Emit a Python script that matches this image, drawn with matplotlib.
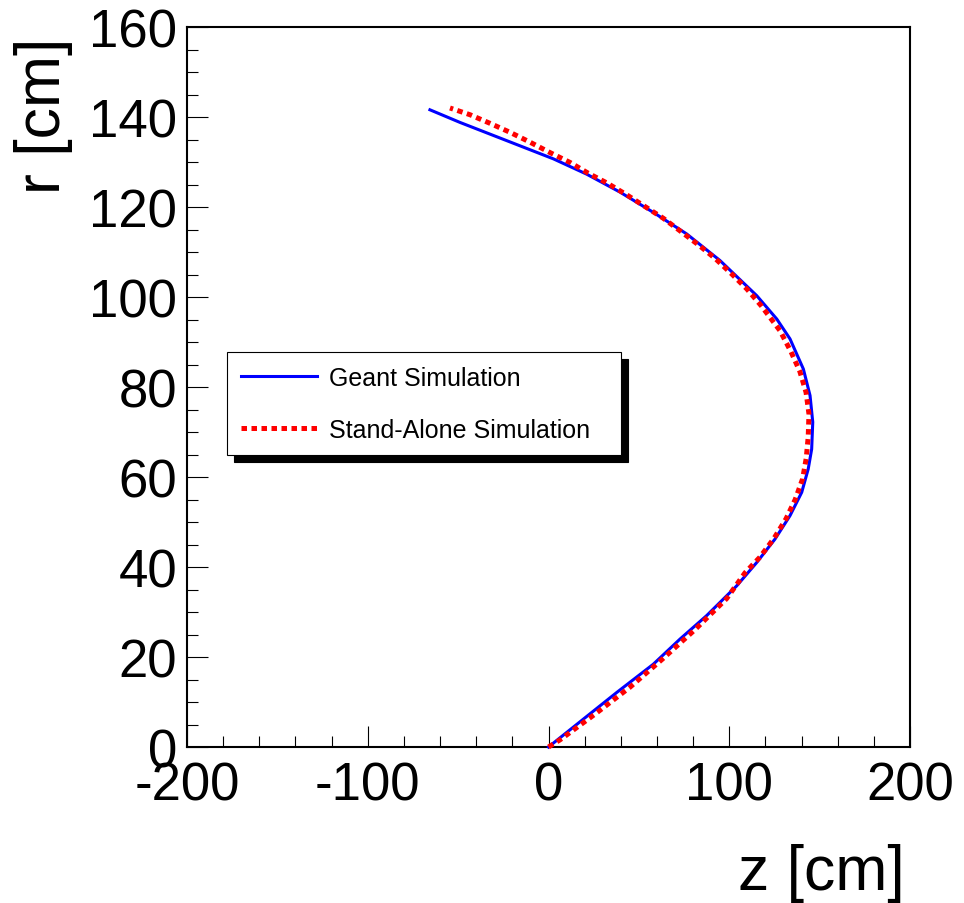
import matplotlib

matplotlib.use("Agg")
import matplotlib.pyplot as plt
from matplotlib import font_manager
from matplotlib.ticker import MultipleLocator

# Track: z along the beam, r transverse radius (cm).
geant_z = [0.0, 19.3, 37.7, 58.0, 72.8, 87.5, 104.1, 115.2, 125.3, 133.6,
           140.1, 143.7, 145.6, 146.2, 144.7, 141.0, 133.6, 126.3, 115.2,
           94.9, 76.5, 58.0, 39.6, 21.1, 2.7, -15.8, -32.4, -49.0, -65.6]
geant_r = [0.0, 6.2, 12.1, 18.4, 24.0, 29.2, 35.8, 41.0, 46.2, 51.4,
           56.6, 61.8, 66.2, 72.2, 78.1, 84.0, 90.7, 95.1, 100.3,
           108.1, 114.0, 118.8, 123.3, 127.3, 130.7, 133.6, 136.2, 138.8, 141.6]

standalone_z = [0.0, 6.4, 25.7, 45.1, 63.2, 81.1, 98.6, 108.7, 117.0, 124.8,
                131.4, 136.5, 140.6, 142.6, 143.7, 144.1, 142.5, 139.1, 134.2,
                128.1, 117.6, 109.7, 101.4, 92.1, 82.9, 73.1, 63.5, 53.4,
                43.3, 32.5, 22.0, 11.9, 0.8, -10.2, -21.3, -32.4, -43.4, -54.5]
standalone_r = [0.0, 1.6, 7.3, 13.3, 19.6, 26.1, 33.0, 38.7, 42.2, 46.4,
                50.7, 55.0, 59.6, 64.2, 69.0, 74.0, 78.8, 83.4, 87.8,
                92.5, 98.1, 101.8, 105.1, 108.6, 111.6, 114.6, 117.5, 120.1,
                122.7, 125.3, 127.5, 129.9, 132.1, 134.4, 136.6, 138.6, 140.5, 142.0]

series_labels = ["Geant Simulation", "Stand-Alone Simulation"]


def has_font(name: str) -> bool:
    try:
        font_manager.findfont(name, fallback_to_default=False)
        return True
    except ValueError:
        return False


BASE_FONT = ["Liberation Sans", "DejaVu Sans"]
if has_font("Liberation Sans Narrow"):
    TITLE_FONT, TITLE_SIZE = ["Liberation Sans Narrow", "Liberation Sans"], 55
else:
    TITLE_FONT, TITLE_SIZE = BASE_FONT, 45

plt.rcParams.update(
    {
        "font.family": BASE_FONT,
        "axes.unicode_minus": False,
        "axes.linewidth": 1.5,
        "xtick.direction": "in",
        "ytick.direction": "in",
    }
)

fig = plt.figure(figsize=(9.64, 9.04), dpi=100)
ax = fig.add_axes([187 / 964, 156 / 904, 723 / 964, 720 / 904])

ax.plot(geant_z, geant_r, color="#0000ff", lw=2.2, label=series_labels[0],
        clip_on=False, zorder=3)
ax.plot(standalone_z, standalone_r, color="#ff0000", lw=3.6,
        linestyle=(0, (1.1, 0.9)), dash_capstyle="butt",
        label=series_labels[1], clip_on=False, zorder=4)

ax.set_xlim(-200, 200)
ax.set_ylim(0, 160)
ax.xaxis.set_major_locator(MultipleLocator(100))
ax.xaxis.set_minor_locator(MultipleLocator(20))
ax.yaxis.set_major_locator(MultipleLocator(20))
ax.yaxis.set_minor_locator(MultipleLocator(5))
ax.tick_params(which="major", length=15, width=0.8, labelsize=38)
ax.tick_params(which="minor", length=8, width=0.8)
ax.tick_params(axis="x", which="major", pad=10)
ax.tick_params(axis="y", which="major", pad=7)

ax.set_xlabel("z [cm]", loc="right", va="baseline",
              fontsize=TITLE_SIZE, family=TITLE_FONT)
ax.xaxis.set_label_coords(0.993, -0.197)
ax.set_ylabel("r [cm]", loc="top", fontsize=TITLE_SIZE, family=TITLE_FONT)
ax.yaxis.set_label_coords(-0.158, 0.986)

legend = ax.legend(
    loc="upper left",
    bbox_to_anchor=(0.0557, 0.3, 0.545, 0.248),
    mode="expand",
    borderaxespad=0,
    fontsize=18,
    frameon=True,
    fancybox=False,
    edgecolor="black",
    framealpha=1,
    borderpad=0.55,
    labelspacing=1.1,
    handlelength=3.05,
    handletextpad=0.45,
    shadow={"ox": 5, "oy": -5, "facecolor": "black",
            "edgecolor": "black", "alpha": 1},
)
legend.get_frame().set_linewidth(0.8)

fig.savefig("out.png", dpi=100)
